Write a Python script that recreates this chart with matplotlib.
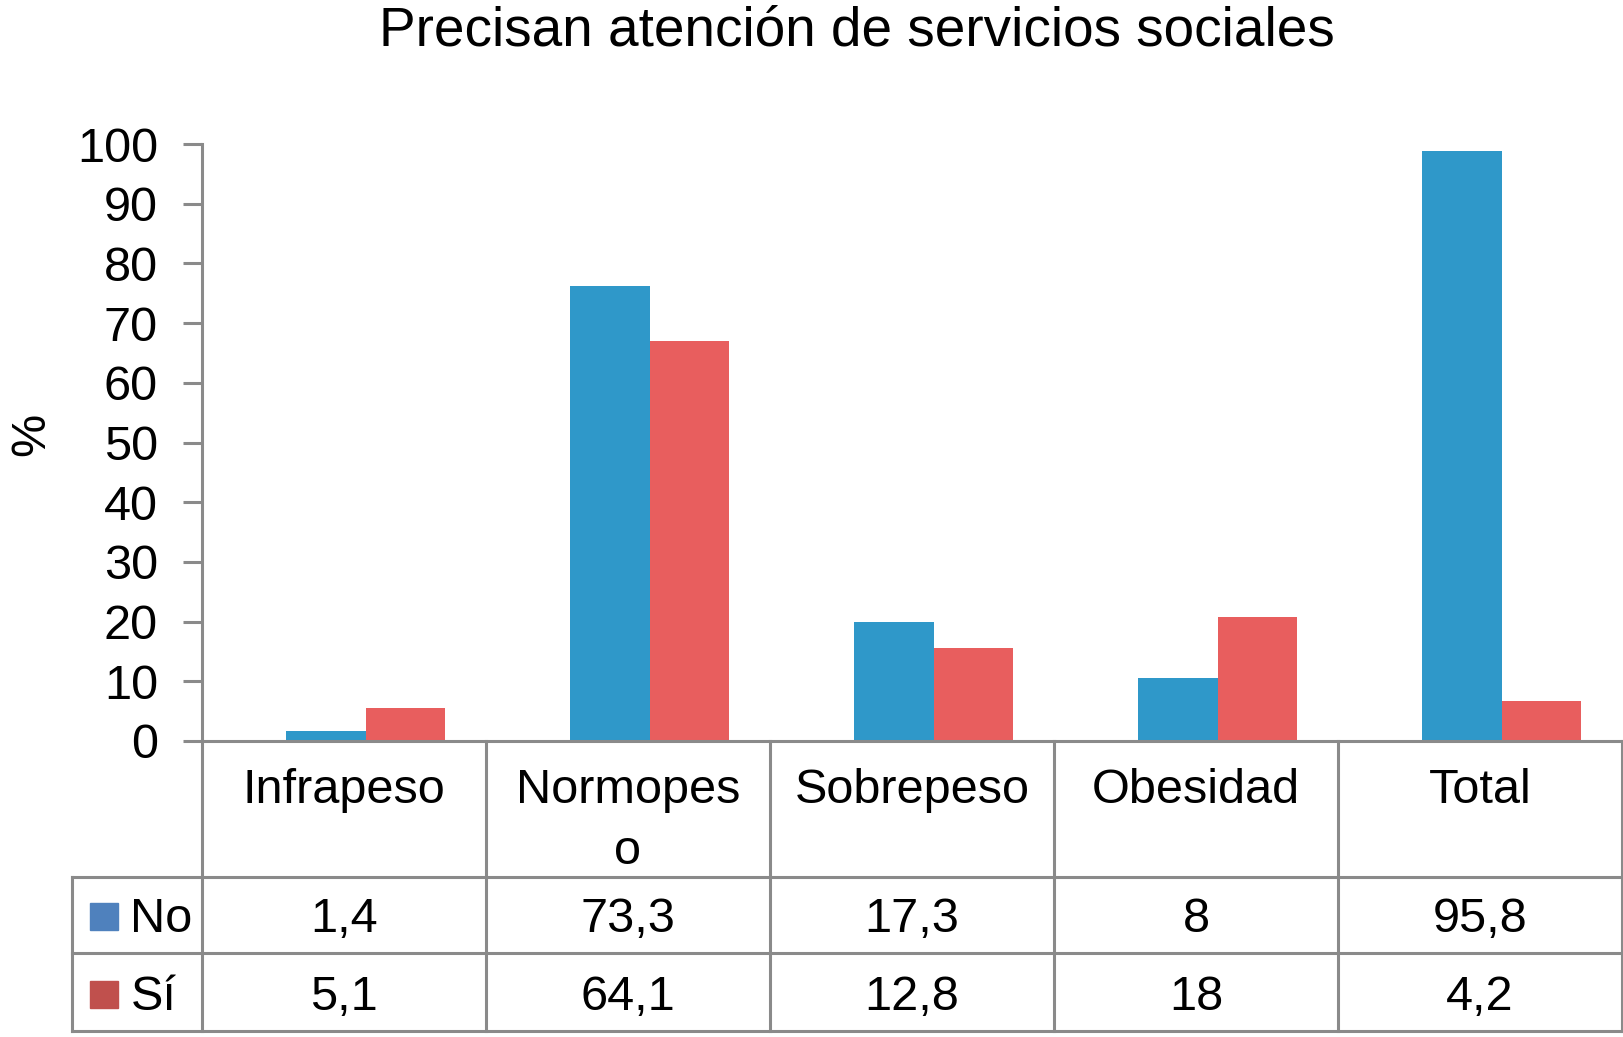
import matplotlib
matplotlib.use("Agg")
import matplotlib.pyplot as plt
from matplotlib.patches import Rectangle

plt.rcParams['font.family'] = ['Liberation Sans', 'DejaVu Sans']

# data
categorias = ['Infrapeso', 'Normopes\no', 'Sobrepeso', 'Obesidad', 'Total']
series = ['No', 'Sí']
# bar heights as drawn in the picture
barras_no = [1.7, 76.2, 20.0, 10.6, 98.8]
barras_si = [5.5, 67.0, 15.5, 20.8, 6.7]
# values printed in the data table
tabla_no = ['1,4', '73,3', '17,3', '8', '95,8']
tabla_si = ['5,1', '64,1', '12,8', '18', '4,2']
yticks = list(range(0, 101, 10))

col_no = '#2F98C9'
col_si = '#E85E5E'
ley_no = '#4F81BD'
ley_si = '#C0504D'
gris = '#8A8A8A'
lw = 2.2
fs = 35

W, H = 1624, 1037
fig = plt.figure(figsize=(W / 100, H / 100), dpi=100)

# main bar axes (pixel box: x 202..1622, y 144..741)
ax = fig.add_axes([202 / W, 1 - 741 / H, 1420 / W, 597 / H])
x = list(range(len(categorias)))
ancho = 0.28
desp = 0.076
ax.bar([i + desp - ancho / 2 for i in x], barras_no, width=ancho, color=col_no, zorder=2)
ax.bar([i + desp + ancho / 2 for i in x], barras_si, width=ancho, color=col_si, zorder=2)
ax.set_xlim(-0.5, 4.5)
ax.set_ylim(0, 100)
ax.set_yticks(yticks)
ax.set_xticks([])
for s in ['top', 'right']:
    ax.spines[s].set_visible(False)
for s in ['left', 'bottom']:
    ax.spines[s].set_color(gris)
    ax.spines[s].set_linewidth(lw)
ax.tick_params(axis='y', direction='out', length=13.7, width=lw, color=gris,
               labelsize=fs, pad=18)

# data table below the axis
tab = fig.add_axes([202 / W, 1 - 1031 / H, 1420 / W, 290 / H])
tab.set_xlim(-0.5, 4.5)
tab.set_ylim(290, 0)
tab.axis('off')

izq = -0.5 - 130 / 284
filas = [136, 212, 290]
for yy in filas:
    tab.plot([izq, 4.5], [yy, yy], color=gris, lw=lw, clip_on=False, solid_capstyle='projecting')
for xx in [-0.5, 0.5, 1.5, 2.5, 3.5, 4.5]:
    tab.plot([xx, xx], [0, 290], color=gris, lw=lw, clip_on=False, solid_capstyle='projecting')
tab.plot([izq, izq], [136, 290], color=gris, lw=lw, clip_on=False, solid_capstyle='projecting')

for i, cat in enumerate(categorias):
    tab.text(i, 27, cat, ha='center', va='top', fontsize=fs, linespacing=1.45)
    tab.text(i, 178, tabla_no[i], ha='center', va='center', fontsize=fs)
    tab.text(i, 256, tabla_si[i], ha='center', va='center', fontsize=fs)

# legend keys inside the table
for yc, nombre, c in [(176, series[0], ley_no), (254, series[1], ley_si)]:
    tab.add_patch(Rectangle((-0.894, yc - 14), 0.097, 27, color=c, clip_on=False))
    tab.text(-0.752, yc + 2, nombre, ha='left', va='center', fontsize=fs)

fig.text(857 / W, 1 - 32 / H, 'Precisan atención de servicios sociales',
         ha='center', va='center', fontsize=39.5)
fig.text(32 / W, 1 - 434 / H, '%', ha='center', va='center', rotation=90, fontsize=fs)

fig.savefig('out.png', dpi=100)
